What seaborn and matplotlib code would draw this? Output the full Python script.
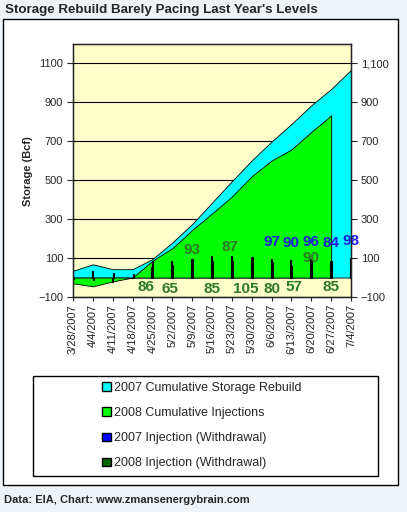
import matplotlib
matplotlib.use("Agg")
import matplotlib.pyplot as plt
import matplotlib.patches as mpatches
import matplotlib.ticker as mticker
import numpy as np
import pandas as pd
import seaborn as sns

weeks = ["3/28/2007", "4/4/2007", "4/11/2007", "4/18/2007", "4/25/2007",
         "5/2/2007", "5/9/2007", "5/16/2007", "5/23/2007", "5/30/2007",
         "6/6/2007", "6/13/2007", "6/20/2007", "6/27/2007", "7/4/2007"]
cum_2007 = [35, 68, 43, 43, 95, 180, 275, 385, 495, 602, 699, 789, 885, 969, 1067]
cum_2008 = [-30, -45, -20, 0, 86, 151, 244, 329, 416, 521, 601, 658, 748, 833]
inj_2007 = [33, 33, -25, 0, 52, 85, 95, 110, 110, 107, 97, 90, 96, 84, 98]
inj_2008 = [-8, -15, 25, 20, 86, 65, 93, 85, 87, 105, 80, 57, 90, 85]

# where the data labels sit (layout only)
lab_idx_2008 = list(range(4, 14))
lab_dx_2008 = [-0.35, -0.1, 0, 0, -0.1, -0.3, 0, 0.12, 0, 0]
lab_y_2008 = [-50, -60, 140, -60, 155, -57, -57, -50, 100, -48]
lab_idx_2007 = list(range(10, 15))
lab_y_2007 = [185, 180, 185, 178, 188]

sns.set_style("white")
plt.rcParams["font.family"] = ["Liberation Sans", "DejaVu Sans"]

W, H = 407, 512
fig = plt.figure(figsize=(W / 100, H / 100), dpi=100, facecolor="#EEF3F7")

# chart frame and legend frame
fig.patches.append(mpatches.Rectangle((3 / W, 1 - 485 / H), 395 / W, 466 / H,
                                      transform=fig.transFigure, facecolor="white",
                                      edgecolor="black", lw=1, zorder=-2))
fig.patches.append(mpatches.Rectangle((33 / W, 1 - 476 / H), 345 / W, 100 / H,
                                      transform=fig.transFigure, facecolor="white",
                                      edgecolor="black", lw=1, zorder=-1))

ax = fig.add_axes([73 / W, 1 - 297 / H, 278 / W, 253 / H])
ax.set_facecolor("#FFFFCC")

x = np.arange(len(weeks))
ax.fill_between(x, 0, cum_2007, facecolor="#00FFFF", edgecolor="black", lw=0.6, zorder=1)
ax.fill_between(x[:len(cum_2008)], 0, cum_2008, facecolor="#00FF00", edgecolor="black",
                lw=0.6, zorder=2)

bars = pd.DataFrame({
    "week": weeks + weeks[:len(inj_2008)],
    "value": inj_2007 + inj_2008,
    "series": ["2007"] * len(inj_2007) + ["2008"] * len(inj_2008),
})
sns.barplot(data=bars, x="week", y="value", hue="series", order=weeks,
            hue_order=["2007", "2008"], palette=["#000080", "#004000"],
            width=0.1, edgecolor="black", linewidth=0.8, errorbar=None,
            legend=False, ax=ax, zorder=3)

for i, dx, yv in zip(lab_idx_2008, lab_dx_2008, lab_y_2008):
    ax.text(i + dx, yv, str(inj_2008[i]), ha="center", va="center", fontsize=11,
            fontweight="bold", color="#2B7A24", zorder=5)
for i, yv in zip(lab_idx_2007, lab_y_2007):
    ax.text(i, yv, str(inj_2007[i]), ha="center", va="center", fontsize=11,
            fontweight="bold", color="#1E1EDC", zorder=6)

yt = list(range(-100, 1101, 200))
ax.set_ylim(-100, 1200)
ax.set_yticks(yt)
ax.yaxis.grid(True, color="black", lw=0.8)
ax.xaxis.grid(False)
ax.set_axisbelow(True)
ax.set_xlim(0, len(weeks) - 1)
ax.set_xticks(x)
ax.set_xticklabels(weeks, rotation=90, fontsize=8, color="#222222")
ax.set_xlabel("")
ax.set_ylabel("")
ax.tick_params(axis="y", direction="out", length=4, labelsize=8, left=True, pad=3)
ax.tick_params(axis="x", direction="out", length=3, bottom=True, pad=2)
for s in ax.spines.values():
    s.set_color("black")
    s.set_linewidth(1)

ax2 = ax.twinx()
ax2.set_ylim(-100, 1200)
ax2.set_yticks(yt)
ax2.yaxis.set_major_formatter(mticker.StrMethodFormatter("{x:,.0f}"))
ax2.tick_params(axis="y", direction="out", length=4, labelsize=8, right=True, pad=3)
ax2.grid(False)

fig.text(28 / W, 1 - 171 / H, "Storage (Bcf)", rotation=90, fontsize=8,
         fontweight="bold", ha="center", va="center")
fig.text(5 / W, 1 - 10 / H, "Storage Rebuild Barely Pacing Last Year's Levels",
         fontsize=9.6, fontweight="bold", va="center")
fig.text(4 / W, 1 - 500 / H, "Data: EIA, Chart: www.zmansenergybrain.com",
         fontsize=8, fontweight="bold", va="center")

handles = [
    mpatches.Patch(facecolor="#00FFFF", edgecolor="black", label="2007 Cumulative Storage Rebuild"),
    mpatches.Patch(facecolor="#00FF00", edgecolor="black", label="2008 Cumulative Injections"),
    mpatches.Patch(facecolor="#0000FF", edgecolor="black", label="2007 Injection (Withdrawal)"),
    mpatches.Patch(facecolor="#006400", edgecolor="black", label="2008 Injection (Withdrawal)"),
]
fig.legend(handles=handles, loc="upper left", bbox_to_anchor=(97 / W, 1 - 377 / H),
           frameon=False, fontsize=9, handlelength=0.7, handleheight=0.7,
           handletextpad=0.3, labelspacing=1.05, borderaxespad=0)

fig.savefig("out.png", dpi=100, facecolor=fig.get_facecolor())
